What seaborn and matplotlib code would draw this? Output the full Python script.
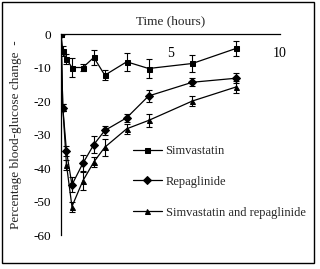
import matplotlib
matplotlib.use("Agg")
import matplotlib.pyplot as plt
import seaborn as sns
import pandas as pd
from matplotlib.patches import Rectangle

times = [0, 0.083, 0.25, 0.5, 1, 1.5, 2, 3, 4, 6, 8]
simvastatin = [0, -5, -7.5, -10, -10, -7, -12.3, -8.3, -10.3, -8.8, -4.3]
simvastatin_err = [0, 1.5, 1.5, 2.8, 1, 2.3, 1.5, 2.7, 2.7, 2.4, 2.2]
repaglinide = [0, -22, -35, -45, -38.6, -33, -28.8, -25, -18.5, -14.4, -13.2]
repaglinide_err = [0, 1, 1.5, 2.2, 2.5, 2.5, 1.2, 1.2, 1.8, 1.2, 1.5]
combination = [0, -22, -39, -51.5, -43.8, -38.2, -33.8, -28.3, -25.8, -20, -15.8]
combination_err = [0, 1, 1.5, 1.5, 2.9, 1.5, 2.5, 1.5, 2, 1.5, 1.7]
labels = ["Simvastatin", "Repaglinide", "Simvastatin and repaglinide"]
y_ticks = [0, -10, -20, -30, -40, -50, -60]
x_ticks = [5, 10]

sns.set_style("white")
plt.rcParams['font.family'] = ['Liberation Serif', 'DejaVu Serif']

rows = []
for name, vals in zip(labels, [simvastatin, repaglinide, combination]):
    for t, v in zip(times, vals):
        rows.append({"time": t, "value": v, "series": name})
df = pd.DataFrame(rows)

fig = plt.figure(figsize=(3.2, 2.69), dpi=100)
ax = fig.add_axes([61/320, 1-235/269, (280-61)/320, (235-34)/269])

markers = {labels[0]: "s", labels[1]: "D", labels[2]: "^"}
sns.lineplot(data=df, x="time", y="value", hue="series", style="series",
             palette=["black"]*3, markers=markers, dashes=False,
             markersize=3.6, linewidth=0.9, ax=ax, legend=True,
             markeredgecolor="black")

for vals, errs in zip([simvastatin, repaglinide, combination],
                      [simvastatin_err, repaglinide_err, combination_err]):
    ax.errorbar(times, vals, yerr=errs, fmt="none", ecolor="black",
                elinewidth=0.8, capsize=2.5, capthick=0.8)

ax.set_xlim(0, 10)
ax.set_ylim(-60, 0)
ax.set_yticks(y_ticks)
ax.set_yticklabels([str(v) for v in y_ticks], fontsize=9.5)
ax.set_xticks(x_ticks)
ax.set_xticklabels([str(v) for v in x_ticks], fontsize=9.5)
for s in ["top", "right"]:
    ax.spines[s].set_visible(False)
ax.spines["bottom"].set_position(("data", 0))
for s in ["bottom", "left"]:
    ax.spines[s].set_color("black")
    ax.spines[s].set_linewidth(0.9)
ax.tick_params(axis="x", direction="out", length=3, width=0.8, pad=6, colors="black")
ax.tick_params(axis="y", direction="out", length=3, width=0.8, pad=4, colors="black")
ax.set_xlabel("")
ax.set_ylabel("Percentage blood-glucose change  -", fontsize=9.5, labelpad=8)
ax.set_title("Time (hours)", fontsize=9.5, pad=7)

leg = ax.legend(loc="upper left", bbox_to_anchor=((128-61)/219, (235-140)/201),
                frameon=False, fontsize=9, handlelength=2.3, handletextpad=0.3,
                labelspacing=1.5, borderaxespad=0)

fig.patches.append(Rectangle((2/320, 1-263/269), 312/320, 261/269, transform=fig.transFigure,
                             fill=False, edgecolor="black", linewidth=1))

fig.savefig("out.png", dpi=100)
